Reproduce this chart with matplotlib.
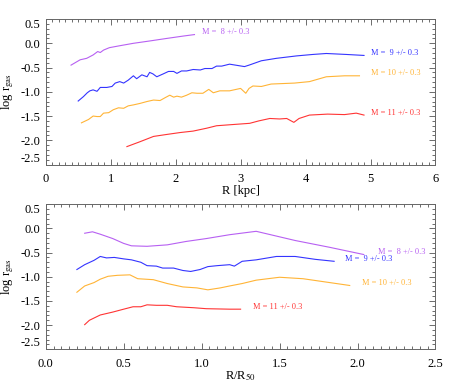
import matplotlib
matplotlib.use("Agg")
import matplotlib.pyplot as plt
from matplotlib.ticker import MultipleLocator

plt.rcParams['font.family'] = 'Liberation Serif'
plt.rcParams['mathtext.fontset'] = 'stix'

# top panel: R [kpc]
r8 = [0.39, 0.53, 0.63, 0.73, 0.80, 0.84, 0.89, 0.98, 1.14, 1.35, 1.61, 1.86, 2.12, 2.29]
g8 = [-0.45, -0.34, -0.31, -0.24, -0.17, -0.19, -0.14, -0.09, -0.05, 0.0, 0.05, 0.10, 0.15, 0.18]

r9 = [0.50, 0.58, 0.64, 0.68, 0.73, 0.79, 0.84, 0.94, 1.02, 1.07, 1.14, 1.20, 1.27, 1.35, 1.40,
      1.48, 1.56, 1.60, 1.65, 1.71, 1.81, 1.89, 1.97, 2.02, 2.09, 2.17, 2.27, 2.38, 2.45, 2.56,
      2.63, 2.71, 2.83, 3.06, 3.13, 3.32, 3.55, 3.86, 4.11, 4.32, 4.63, 4.90]
g9 = [-1.19, -1.10, -1.02, -0.98, -0.96, -0.99, -0.91, -0.91, -0.89, -0.82, -0.79, -0.82, -0.76,
      -0.67, -0.73, -0.65, -0.69, -0.60, -0.63, -0.69, -0.63, -0.58, -0.58, -0.62, -0.57, -0.57,
      -0.54, -0.55, -0.52, -0.52, -0.47, -0.47, -0.43, -0.48, -0.45, -0.36, -0.31, -0.26, -0.23,
      -0.21, -0.23, -0.25]

r10 = [0.55, 0.66, 0.73, 0.79, 0.84, 0.89, 0.97, 1.04, 1.12, 1.20, 1.27, 1.35, 1.45, 1.56, 1.66,
       1.76, 1.84, 1.91, 1.97, 2.02, 2.09, 2.17, 2.25, 2.33, 2.42, 2.51, 2.58, 2.68, 2.83, 3.00,
       3.08, 3.13, 3.19, 3.32, 3.47, 3.83, 4.06, 4.19, 4.32, 4.60, 4.83]
g10 = [-1.64, -1.57, -1.50, -1.51, -1.51, -1.44, -1.43, -1.37, -1.33, -1.34, -1.29, -1.27, -1.24,
       -1.20, -1.17, -1.18, -1.12, -1.07, -1.11, -1.09, -1.11, -1.07, -1.02, -1.03, -1.03, -0.95,
       -1.02, -0.98, -0.98, -0.93, -1.03, -0.93, -0.88, -0.89, -0.84, -0.82, -0.79, -0.74, -0.69,
       -0.67, -0.67]

r11 = [1.25, 1.45, 1.66, 1.86, 2.07, 2.27, 2.48, 2.63, 2.83, 3.14, 3.28, 3.45, 3.60, 3.71, 3.82,
       3.90, 4.06, 4.34, 4.60, 4.78, 4.90]
g11 = [-2.13, -2.03, -1.92, -1.88, -1.84, -1.81, -1.75, -1.70, -1.68, -1.65, -1.60, -1.55, -1.56,
       -1.55, -1.63, -1.55, -1.48, -1.46, -1.47, -1.44, -1.48]

# bottom panel: R/R50
s8 = [0.25, 0.30, 0.35, 0.43, 0.50, 0.55, 0.65, 0.78, 0.90, 1.03, 1.18, 1.35, 1.60, 1.82, 2.04]
h8 = [-0.10, -0.07, -0.12, -0.21, -0.31, -0.36, -0.37, -0.34, -0.27, -0.21, -0.13, -0.06, -0.25,
      -0.39, -0.54]

s9 = [0.20, 0.25, 0.31, 0.35, 0.39, 0.44, 0.50, 0.55, 0.61, 0.65, 0.71, 0.75, 0.82, 0.88, 0.93,
      0.99, 1.04, 1.10, 1.18, 1.21, 1.26, 1.35, 1.48, 1.60, 1.73, 1.85]
h9 = [-0.85, -0.75, -0.66, -0.58, -0.61, -0.60, -0.63, -0.65, -0.70, -0.77, -0.78, -0.82, -0.82,
      -0.87, -0.89, -0.85, -0.79, -0.77, -0.75, -0.78, -0.68, -0.65, -0.58, -0.58, -0.64, -0.68]

s10 = [0.20, 0.25, 0.31, 0.35, 0.40, 0.46, 0.54, 0.59, 0.69, 0.78, 0.88, 0.97, 1.04, 1.12, 1.18,
       1.26, 1.35, 1.50, 1.65, 1.80, 1.95]
h10 = [-1.32, -1.19, -1.12, -1.05, -0.99, -0.97, -0.96, -1.04, -1.06, -1.14, -1.21, -1.23, -1.27,
       -1.23, -1.19, -1.14, -1.07, -1.01, -1.04, -1.11, -1.18]

s11 = [0.25, 0.28, 0.35, 0.43, 0.50, 0.56, 0.61, 0.65, 0.71, 0.78, 0.84, 0.95, 1.03, 1.18, 1.25]
h11 = [-1.99, -1.90, -1.79, -1.73, -1.67, -1.62, -1.62, -1.58, -1.59, -1.59, -1.62, -1.64, -1.66,
       -1.67, -1.67]

colors = ['#B760F2', '#3434FF', '#FFB436', '#FF3434']
labels = ['M =  8 +/- 0.3', 'M =  9 +/- 0.3', 'M = 10 +/- 0.3', 'M = 11 +/- 0.3']

# label anchor positions (data coords)
top_lab = [(2.41, 0.23), (5.01, -0.19), (5.01, -0.61), (5.01, -1.43)]
bot_lab = [(2.13, -0.49), (1.92, -0.64), (2.03, -1.12), (1.33, -1.62)]

fig = plt.figure(figsize=(4.58, 3.89), dpi=100)
ax1 = fig.add_axes([0.0998, 0.577, 0.851, 0.374])
ax2 = fig.add_axes([0.0998, 0.102, 0.851, 0.373])

top = [(r8, g8), (r9, g9), (r10, g10), (r11, g11)]
bot = [(s8, h8), (s9, h9), (s10, h10), (s11, h11)]

for ax, series, labpos in [(ax1, top, top_lab), (ax2, bot, bot_lab)]:
    for (x, y), c, lab, (lx, ly) in zip(series, colors, labels, labpos):
        ax.plot(x, y, color=c, lw=0.8)
        ax.text(lx, ly, lab, color=c, fontsize=6, va='center', ha='left')
    ax.set_ylim(-2.5, 0.5)
    ax.set_yticks([0.5, 0.0, -0.5, -1.0, -1.5, -2.0, -2.5])
    ax.set_yticklabels(['0.5', '0.0', '-0.5', '-1.0', '-1.5', '-2.0', '-2.5'])
    ax.yaxis.set_minor_locator(MultipleLocator(0.1))
    ax.tick_params(which='both', direction='in', top=True, right=True, labelsize=9,
                   color='#555555', width=0.6)
    ax.tick_params(which='major', length=4)
    ax.tick_params(which='minor', length=2)
    ax.tick_params(axis='y', pad=4)
    ax.tick_params(axis='x', pad=6)
    for sp in ax.spines.values():
        sp.set_linewidth(0.7)
        sp.set_color('#666666')
    ax.set_ylabel(r'log r$_{\rm gas}$', fontsize=9, labelpad=3)

ax1.set_xlim(0, 6)
ax1.xaxis.set_major_locator(MultipleLocator(1))
ax1.xaxis.set_minor_locator(MultipleLocator(0.1))
ax1.set_xlabel('R [kpc]', fontsize=9, labelpad=0)

ax2.set_xlim(0, 2.5)
ax2.xaxis.set_major_locator(MultipleLocator(0.5))
ax2.xaxis.set_minor_locator(MultipleLocator(0.05))
ax2.xaxis.set_major_formatter(matplotlib.ticker.FormatStrFormatter('%.1f'))
ax2.set_xlabel(r'R/R$_{50}$', fontsize=9, labelpad=0)

# edge labels pulled inside the axes, as in the original
for ax in (ax1, ax2):
    ticks = ax.yaxis.get_major_ticks()
    ticks[0].label1.set_va('top')
    ticks[-1].label1.set_va('bottom')

fig.savefig('out.png', dpi=100)
